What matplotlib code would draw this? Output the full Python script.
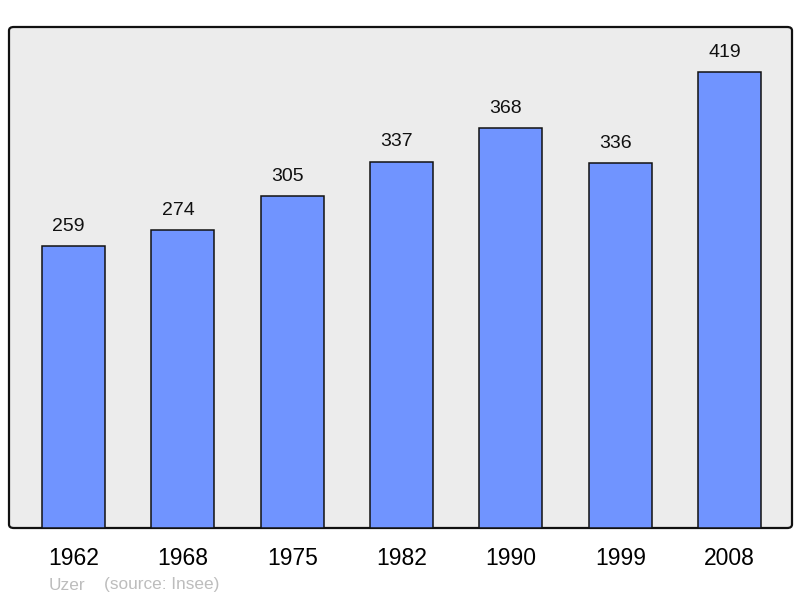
import matplotlib.pyplot as plt
from matplotlib.patches import FancyBboxPatch
import numpy as np

years = ['1962', '1968', '1975', '1982', '1990', '1999', '2008']
population = [259, 274, 305, 337, 368, 336, 419]
commune = 'Uzer'
source = '(source: Insee)'

plt.rcParams['font.family'] = ['Liberation Sans', 'DejaVu Sans']

fig = plt.figure(figsize=(8.0, 5.98), dpi=100)
W, H = 800, 598
# axes box in pixels: left 9, right 792, top 27, bottom 528
ax = fig.add_axes([9 / W, 1 - 528 / H, (792 - 9) / W, (528 - 27) / H])
ax.set_facecolor('none')
ax.set_zorder(2)

# rounded frame behind the plot area
frame = FancyBboxPatch((9 / W, 1 - 528 / H), (792 - 9) / W, (528 - 27) / H,
                       boxstyle='round,pad=0,rounding_size=0.006',
                       transform=fig.transFigure, facecolor='#ececec',
                       edgecolor='#111111', linewidth=1.6, zorder=-5)
fig.patches.append(frame)

x = np.arange(len(years))
ax.bar(x, population, width=0.576, color='#7094ff', edgecolor='#111111',
       linewidth=1.1, zorder=2)
for xi, v in zip(x, population):
    # labels sit a little left of the bar centre in the original
    ax.text(xi - 0.045, v + 18, str(v), ha='center', va='center',
            fontsize=14, color='#111111')

ax.set_xlim(-0.59, 6.57)
ax.set_ylim(0, 460.7)
for s in ax.spines.values():
    s.set_visible(False)
ax.set_yticks([])
ax.set_xticks(x)
ax.set_xticklabels(years, fontsize=16.5)
ax.tick_params(axis='x', length=0, pad=14)

fig.text(49 / W, 1 - 585 / H, commune, fontsize=12.4, color='#bdbdbd',
         va='center', ha='left')
fig.text(104 / W, 1 - 585 / H, source, fontsize=12.4, color='#bdbdbd',
         va='center', ha='left')

fig.savefig('out.png', dpi=100)
